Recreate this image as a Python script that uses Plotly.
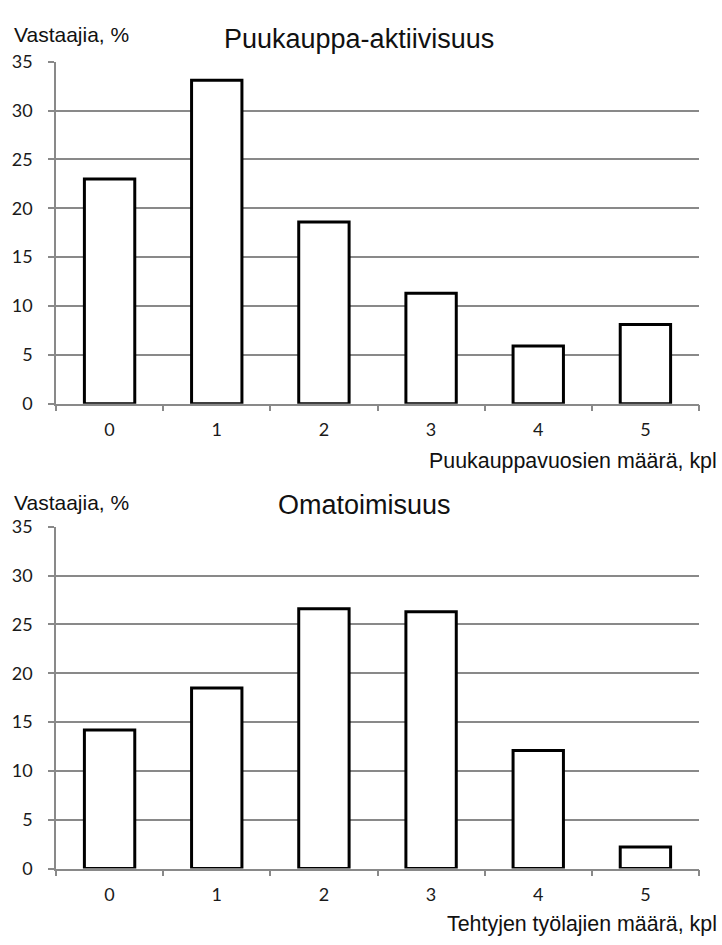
import plotly.graph_objects as go

# ---- data ----
categories = ["0", "1", "2", "3", "4", "5"]
puukauppa_values = [23.0, 33.1, 18.6, 11.3, 5.9, 8.1]
omatoimisuus_values = [14.2, 18.5, 26.6, 26.3, 12.1, 2.2]
y_ticks = [0, 5, 10, 15, 20, 25, 30, 35]

title_top = "Puukauppa-aktiivisuus"
title_bottom = "Omatoimisuus"
y_label = "Vastaajia, %"
x_label_top = "Puukauppavuosien määrä, kpl"
x_label_bottom = "Tehtyjen työlajien määrä, kpl"

W, H = 722, 945
GRID = "#898989"
TICKFONT = dict(family="Lato, Liberation Sans, sans-serif", size=18, color="#1a1a1a")
TEXTFONT = "Liberation Sans, Arial, sans-serif"


def px_x(p):
    return p / W


def px_y(p):
    return 1 - p / H


fig = go.Figure()
bar_style = dict(marker=dict(color="white", line=dict(color="black", width=3)), showlegend=False, hoverinfo="skip")
fig.add_trace(go.Bar(x=categories, y=puukauppa_values, xaxis="x", yaxis="y", **bar_style))
fig.add_trace(go.Bar(x=categories, y=omatoimisuus_values, xaxis="x2", yaxis="y2", **bar_style))

xdom = [px_x(56), px_x(699)]
common_x = dict(
    type="category", tickson="boundaries", ticks="outside", ticklen=6, tickwidth=1.5,
    tickcolor=GRID, showline=True, linecolor=GRID, linewidth=1.5, showgrid=False,
    tickfont=TICKFONT, ticklabelstandoff=9, domain=xdom, fixedrange=True,
)
common_y = dict(
    range=[0, 35], tickvals=y_ticks, ticks="outside", ticklen=6, tickwidth=1.5,
    tickcolor=GRID, showline=True, linecolor=GRID, linewidth=1.5, showgrid=True,
    gridcolor=GRID, gridwidth=1.5, zeroline=False, tickfont=TICKFONT,
    ticklabelstandoff=12, fixedrange=True,
)

fig.update_layout(
    width=W, height=H,
    margin=dict(l=0, r=0, t=0, b=0),
    paper_bgcolor="white", plot_bgcolor="white",
    bargap=0.53,
    xaxis=dict(anchor="y", **common_x),
    yaxis=dict(anchor="x", domain=[px_y(401), px_y(51)], **common_y),
    xaxis2=dict(anchor="y2", **common_x),
    yaxis2=dict(anchor="x2", domain=[px_y(877), px_y(527)], **common_y),
)

ann = []
for (txt, x, y, size, xa) in [
    (y_label, 12, 23, 21, "left"),
    (title_top, 359, 28, 27, "center"),
    (x_label_top, 719, 460, 21.4, "right"),
    (y_label, 12, 502, 21, "left"),
    (title_bottom, 365, 505, 27, "center"),
    (x_label_bottom, 719, 934, 21.4, "right"),
]:
    ann.append(dict(
        text=txt, x=px_x(x), y=px_y(y), xref="paper", yref="paper",
        xanchor=xa, yanchor="middle", showarrow=False,
        font=dict(family=TEXTFONT, size=size, color="#111111"),
    ))
fig.update_layout(annotations=ann)

fig.write_html(
    "out.html",
    config={"displayModeBar": False},
    post_script="document.body.style.margin='0';document.body.style.overflow='hidden';",
)
